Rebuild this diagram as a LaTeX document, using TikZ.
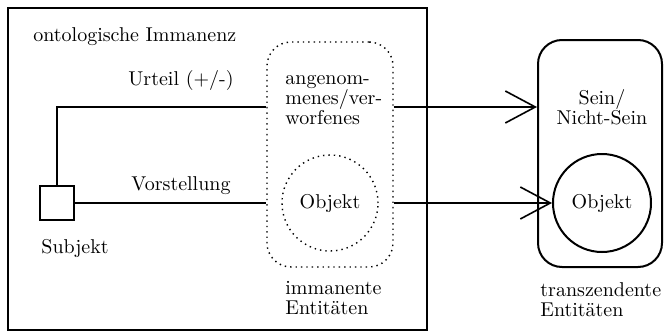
\documentclass[tikz,border=0pt]{standalone}
\usetikzlibrary{arrows.meta}
\begin{document}
\begin{tikzpicture}[
    x=0.5pt, y=-0.5pt,
    font=\fontsize{10}{10}\selectfont,
    conn/.style={line width=0.8pt},
    pfeil/.style={conn, -{Straight Barb[length=15pt, width=16pt]}},
    txt/.style={inner sep=0pt, align=left}
]
\useasboundingbox (0,0) rectangle (664,332);

% Immanenz
\node[rectangle, draw, line width=1.2pt, minimum width=209.5pt, minimum height=161pt] (immanenz) at (217.5,169) {};
\node[txt, anchor=west] (titel) at (33,37) {ontologische Immanenz};

% Subjekt
\node[rectangle, draw, line width=1pt, minimum width=17pt, minimum height=17pt, inner sep=0pt] (subjekt) at (57,203) {};
\node[txt, anchor=west] (subjektlabel) at (41,248) {Subjekt};

% immanente Entitaeten
\node[rectangle, draw, dotted, line width=0.7pt, rounded corners=12pt, minimum width=63pt, minimum height=112.5pt] (immanent) at (330,154.5) {};
\node[circle, draw, dotted, line width=0.7pt, minimum size=48pt, inner sep=0pt] (objimm) at (330,203) {Objekt};
\node[txt, anchor=west] (angenommen) at (285,100) {angenom-\\menes/ver-\\worfenes};
\node[txt, anchor=west] (immlabel) at (285,298) {immanente\\Entit\"aten};

% transzendente Entitaeten
\node[rectangle, draw, line width=1pt, rounded corners=12pt, minimum width=62pt, minimum height=113.5pt] (transz) at (600,153.5) {};
\node[circle, draw, line width=1pt, minimum size=49pt, inner sep=0pt] (objtrans) at (602,203) {Objekt};
\node[txt, align=center] (sein) at (602,107) {Sein/\\Nicht-Sein};
\node[txt, anchor=west] (translabel) at (540,300) {transzendente\\Entit\"aten};

% Akte
\node[txt] (urteil) at (181,80) {Urteil (+/-)};
\node[txt] (vorstellung) at (181,186) {Vorstellung};

% Verbindungen
\draw[conn] (subjekt.north) |- (immanent.west |- sein);
\draw[conn] (subjekt.east) -- (immanent.west |- subjekt);
\draw[pfeil] (immanent.east |- sein) -- (transz.west |- sein);
\draw[pfeil] (immanent.east |- objtrans) -- (objtrans.west);

\end{tikzpicture}
\end{document}
